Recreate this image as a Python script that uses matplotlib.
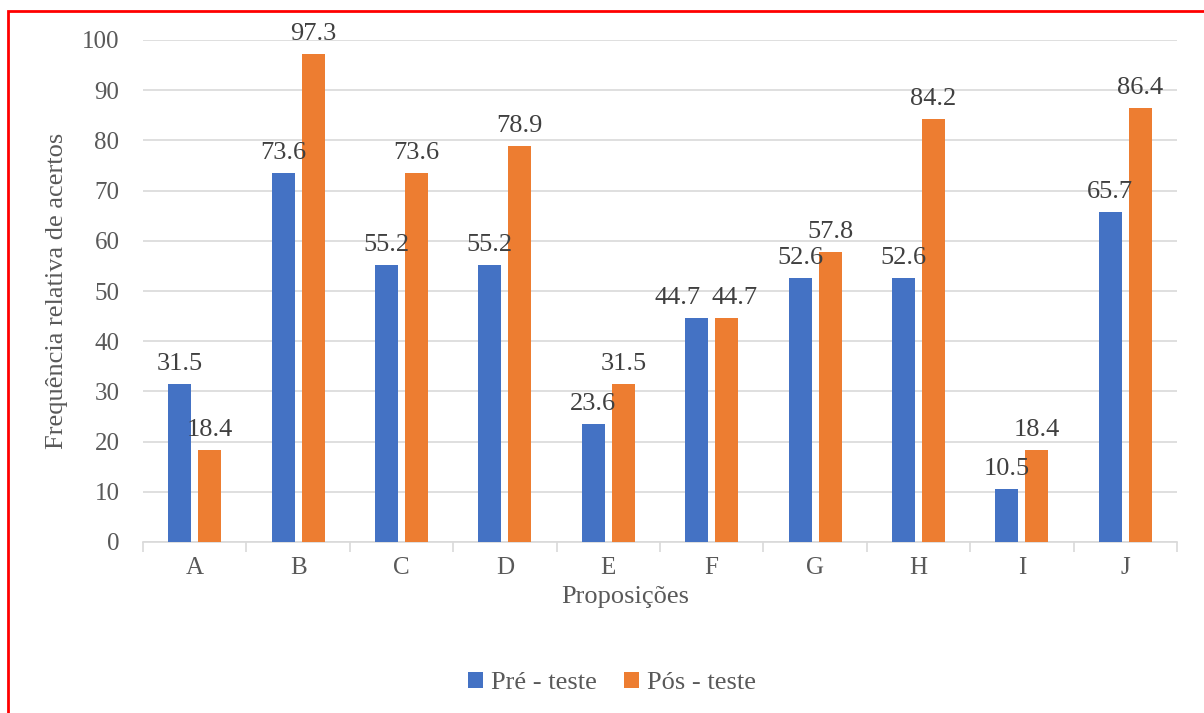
import numpy as np
import matplotlib.pyplot as plt
from matplotlib.patches import Rectangle

plt.rcParams['font.family'] = ['Liberation Serif', 'DejaVu Serif']

propositions = ['A', 'B', 'C', 'D', 'E', 'F', 'G', 'H', 'I', 'J']
pre_teste = [31.5, 73.6, 55.2, 55.2, 23.6, 44.7, 52.6, 52.6, 10.5, 65.7]
pos_teste = [18.4, 97.3, 73.6, 78.9, 31.5, 44.7, 57.8, 84.2, 18.4, 86.4]

blue = '#4472C4'
orange = '#ED7D31'
text_col = '#595959'
grid_col = '#D9D9D9'

fig = plt.figure(figsize=(12.04, 7.13), dpi=100)
ax = fig.add_axes([143 / 1204, 1 - 542 / 713, 1034 / 1204, 502 / 713])

x = np.arange(len(propositions))
w = 0.222
off = 0.145
b1 = ax.bar(x - off, pre_teste, w, color=blue, label='Pré - teste', zorder=3)
b2 = ax.bar(x + off, pos_teste, w, color=orange, label='Pós - teste', zorder=3)

# labels of equal neighbours are pushed apart so they do not collide
shift = {(0, 5): -14, (1, 5): 6}

for k, bars in enumerate((b1, b2)):
    for i, rect in enumerate(bars):
        h = rect.get_height()
        ax.annotate(f'{h:.1f}', (rect.get_x() + rect.get_width() / 2, h),
                    xytext=(shift.get((k, i), 0), 10), textcoords='offset points',
                    ha='center', va='baseline', fontsize=19, color='#404040', zorder=4)

ax.set_xlim(-0.5, len(propositions) - 0.5)
ax.set_ylim(0, 100)
ax.set_yticks(range(0, 101, 10))
ax.set_xticks(x)
ax.set_xticklabels(propositions)
ax.set_xticks(np.arange(-0.5, len(propositions)), minor=True)
ax.tick_params(axis='x', which='major', length=0, labelsize=18, colors=text_col, pad=11)
ax.tick_params(axis='x', which='minor', length=7, color=grid_col, width=1.2)
ax.tick_params(axis='y', length=0, labelsize=18, colors=text_col, pad=17)

ax.grid(axis='y', color=grid_col, linewidth=1.2, zorder=0)
for s in ['top', 'right', 'left']:
    ax.spines[s].set_visible(False)
ax.spines['bottom'].set_color(grid_col)
ax.spines['bottom'].set_linewidth(1.2)

ax.set_xlabel('Proposições', fontsize=19, color=text_col)
ax.xaxis.set_label_coords((625 - 143) / 1034, -(597 - 542) / 502)
ax.xaxis.label.set_va('center')
ax.set_ylabel('Frequência relativa de acertos', fontsize=19, color=text_col)
ax.yaxis.set_label_coords((57 - 143) / 1034, 0.5)
ax.yaxis.label.set_va('center')

fig.legend(handles=[b1, b2], loc='center', bbox_to_anchor=(612 / 1204, 1 - 683 / 713),
           ncol=2, frameon=False, fontsize=19, labelcolor=text_col,
           handlelength=0.6, handleheight=0.6, handletextpad=0.3, columnspacing=1.0)

# red frame around the chart
fig.patches.append(Rectangle((8 / 1204, -0.1), 1.2, 1 - 11 / 713 + 0.1,
                             transform=fig.transFigure, fill=False,
                             edgecolor='#FF0000', linewidth=2))

fig.savefig('out.png', dpi=100)
